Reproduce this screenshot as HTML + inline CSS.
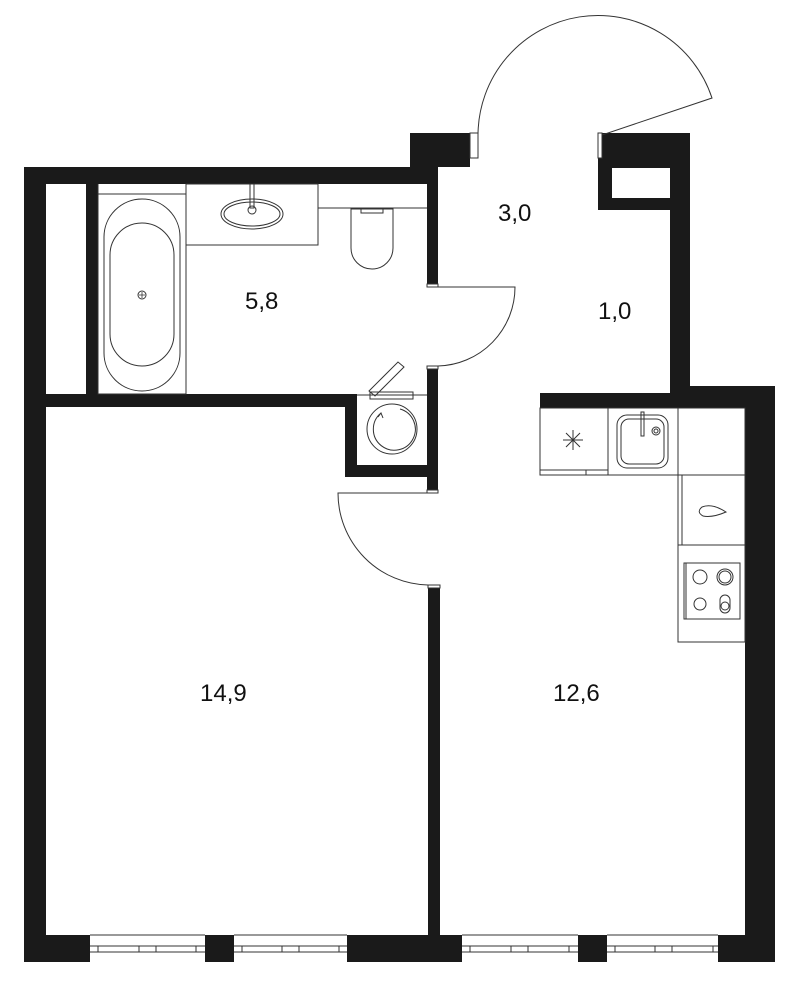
<!DOCTYPE html>
<html><head><meta charset="utf-8"><style>
html,body{margin:0;padding:0;background:#fff;}
svg{display:block;}
text{font-family:"Liberation Sans",Arial,sans-serif;font-size:24px;fill:#111;}
</style></head><body>
<svg width="799" height="1000" viewBox="0 0 799 1000" xmlns="http://www.w3.org/2000/svg">
<g fill="#1a1a1a" stroke="none">
<!-- left outer wall -->
<rect x="24" y="167" width="22" height="795"/>
<!-- top wall -->
<rect x="24" y="167" width="414" height="17"/>
<!-- step up near entrance -->
<rect x="410" y="133" width="60" height="34"/>
<rect x="427" y="133" width="11" height="51"/>
<!-- bathroom right wall upper -->
<rect x="427" y="167" width="11" height="120"/>
<!-- inner partition left -->
<rect x="86" y="184" width="12" height="210"/>
<!-- wall between bath and bedroom -->
<rect x="46" y="394" width="311" height="13"/>
<rect x="345" y="394" width="12" height="83"/>
<rect x="345" y="465" width="93" height="12"/>
<!-- bathroom right wall lower -->
<rect x="427" y="366" width="11" height="127"/>
<!-- middle wall bedroom/kitchen -->
<rect x="428" y="585" width="12" height="377"/>
<!-- top right block -->
<path d="M598 133 H690 V386 H775 V962 H745 V408 H540 V393 H670 V210 H598 Z M612 168 V198 H670 V168 Z" fill-rule="evenodd"/>
<!-- bottom blocks -->
<rect x="24" y="935" width="66" height="27"/>
<rect x="205" y="935" width="29" height="27"/>
<rect x="347" y="935" width="115" height="27"/>
<rect x="578" y="935" width="29" height="27"/>
<rect x="718" y="935" width="57" height="27"/>
</g>
<!-- jambs -->
<g fill="#fff" stroke="#333" stroke-width="1">
<rect x="470" y="133" width="8" height="25"/>
<rect x="598" y="133" width="4" height="25"/>
<rect x="427" y="284" width="11" height="3"/>
<rect x="427" y="366" width="11" height="3"/>
<rect x="427" y="490" width="11" height="3"/>
<rect x="428" y="585" width="12" height="3"/>
</g>
<g fill="none" stroke="#333" stroke-width="1">
<!-- windows -->
<path d="M90 935 H205 M234 935 H347 M462 935 H578 M607 935 H718"/>
<path d="M90 946 H205 M90 952 H205 M234 946 H347 M234 952 H347 M462 946 H578 M462 952 H578 M607 946 H718 M607 952 H718"/>
<path d="M98 946V952 M139 946V952 M156 946V952 M196 946V952 M242 946V952 M282 946V952 M299 946V952 M339 946V952 M470 946V952 M511 946V952 M528 946V952 M569 946V952 M615 946V952 M655 946V952 M672 946V952 M713 946V952"/>
<!-- entry door -->
<path d="M478 135 A120 120 0 0 1 712 98 L602 135"/>
<!-- bathroom door -->
<path d="M438 287 H515 A79 79 0 0 1 438 366"/>
<!-- bedroom door -->
<path d="M428 493 H338 A92 92 0 0 0 428 585"/>
<!-- bath -->
<rect x="98" y="194" width="88" height="200"/>
<path d="M98 184 V194"/>
<rect x="104" y="199" width="76" height="192" rx="38"/>
<rect x="110" y="223" width="64" height="143" rx="32"/>
<circle cx="142" cy="295" r="4"/>
<path d="M139 295 H145 M142 292 V298" stroke-width="0.8"/>
<!-- sink counter -->
<rect x="186" y="184" width="132" height="61"/>
<ellipse cx="252" cy="214" rx="31" ry="15"/>
<ellipse cx="252" cy="214" rx="28" ry="12"/>
<rect x="250" y="184" width="4" height="24"/>
<circle cx="252" cy="210" r="4"/>
<!-- toilet -->
<path d="M318 208 H427"/>
<path d="M351 209 H393 V248 A21 21 0 0 1 351 248 Z"/>
<rect x="361" y="209" width="22" height="4"/>
<!-- washer -->
<path d="M357 395 H427"/>
<circle cx="392" cy="429" r="25"/>
<path d="M400 409 A21 21 0 1 1 381 413"/>
<path d="M378 417 l3 -4 l2 5"/>
<rect x="370" y="392" width="43" height="7"/>
<path d="M369 391 L398 362 L404 367 L375 396 Z"/>
<!-- kitchen -->
<rect x="540" y="408" width="68" height="67"/>
<path d="M540 470 H608 M586 470 V475"/>
<path d="M563 440 H583 M573 430 V450 M566 433 L580 447 M580 433 L566 447"/>
<rect x="608" y="408" width="70" height="67"/>
<rect x="617" y="415" width="51" height="53" rx="10"/>
<rect x="621" y="419" width="43" height="45" rx="8"/>
<rect x="641" y="412" width="3" height="24"/>
<circle cx="656" cy="431" r="4"/>
<circle cx="656" cy="431" r="2"/>
<rect x="678" y="408" width="67" height="67"/>
<rect x="678" y="475" width="67" height="70"/>
<path d="M682 475 V545"/>
<path d="M726 512 Q712 503 702 507 Q696 512 703 516 Q712 518 726 512 Z"/>
<rect x="678" y="545" width="67" height="97"/>
<rect x="684" y="563" width="56" height="56"/>
<path d="M686 563 V619"/>
<circle cx="700" cy="577" r="7"/>
<circle cx="725" cy="577" r="8"/>
<circle cx="725" cy="577" r="6"/>
<circle cx="700" cy="604" r="6"/>
<rect x="720" y="595" width="10" height="18" rx="5"/>
<circle cx="725" cy="606" r="4"/>
</g>
<text x="245" y="309">5,8</text>
<text x="498" y="221">3,0</text>
<text x="598" y="319">1,0</text>
<text x="200" y="701">14,9</text>
<text x="553" y="701">12,6</text>
</svg>
</body></html>
